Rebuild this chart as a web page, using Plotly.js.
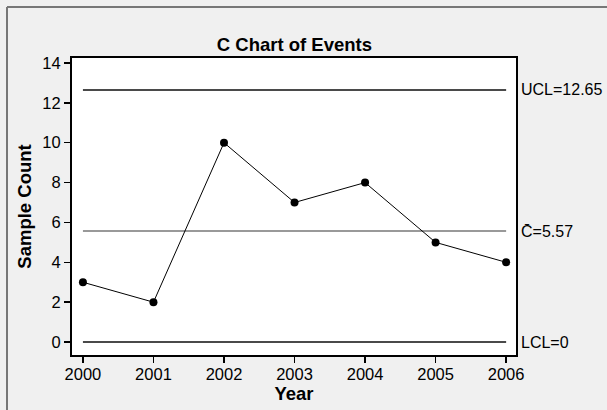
<!DOCTYPE html>
<html>
<head>
<meta charset="utf-8">
<script src="https://cdn.plot.ly/plotly-3.0.1.min.js"></script>
<style>html,body{margin:0;padding:0;background:#f0f0f0;}#chart{width:607px;height:410px;}</style>
</head>
<body>
<div id="chart"></div>
<script>
const years = [2000, 2001, 2002, 2003, 2004, 2005, 2006];
const counts = [3, 2, 10, 7, 8, 5, 4];
const ucl = 12.65;
const centerLine = 5.57;
const lcl = 0;
const limitLabels = ['UCL=12.65', 'C\u0304=5.57', 'LCL=0'];
const limitValues = [ucl, centerLine, lcl];
const yTicks = [0, 2, 4, 6, 8, 10, 12, 14];

const FONT = 'Liberation Sans, Arial, Helvetica, sans-serif';
const xEnds = [years[0], years[years.length - 1]];

const traces = [
  {x: xEnds, y: [ucl, ucl], mode: 'lines', line: {color: '#4a4a4a', width: 2}, hoverinfo: 'skip', showlegend: false},
  {x: xEnds, y: [centerLine, centerLine], mode: 'lines', line: {color: '#999999', width: 2}, hoverinfo: 'skip', showlegend: false},
  {x: xEnds, y: [lcl, lcl], mode: 'lines', line: {color: '#4a4a4a', width: 2}, hoverinfo: 'skip', showlegend: false},
  {x: years, y: counts, mode: 'lines+markers', line: {color: '#000', width: 1}, marker: {color: '#000', size: 8}, showlegend: false}
];

const annotations = limitLabels.map((t, i) => ({
  xref: 'paper', yref: 'y', x: 1, y: limitValues[i], text: t, showarrow: false,
  xanchor: 'left', yanchor: 'middle', xshift: 3,
  font: {family: FONT, size: 16, color: '#000'}
}));

const layout = {
  width: 607, height: 410,
  margin: {l: 72, r: 91, t: 58, b: 55},
  paper_bgcolor: '#f0f0f0',
  plot_bgcolor: '#ffffff',
  font: {family: FONT, color: '#000'},
  title: {text: '<b>C Chart of Events</b>', font: {family: FONT, size: 18.5, color: '#000'}, x: 0.485, xanchor: 'center', y: 0.875, yanchor: 'bottom', yref: 'container'},
  xaxis: {
    range: [1999.845, 2006.14], tickvals: years, ticktext: years.map(String),
    showgrid: false, zeroline: false, showline: true, mirror: true, linecolor: '#000', linewidth: 2,
    ticks: 'outside', ticklen: 6, tickwidth: 1.5, tickcolor: '#000', ticklabelstandoff: -3,
    tickfont: {family: FONT, size: 16.5, color: '#000'},
    title: {text: '<b>Year</b>', font: {family: FONT, size: 18.5, color: '#000'}, standoff: 0}
  },
  yaxis: {
    range: [-0.65, 14.25], tickvals: yTicks,
    showgrid: false, zeroline: false, showline: true, mirror: true, linecolor: '#000', linewidth: 2,
    ticks: 'outside', ticklen: 6, tickwidth: 1.5, tickcolor: '#000',
    tickfont: {family: FONT, size: 16.5, color: '#000'},
    title: {text: '<b>Sample Count</b>', font: {family: FONT, size: 18.5, color: '#000'}, standoff: 6}
  },
  annotations: annotations,
  shapes: [
    {type: 'line', xref: 'paper', yref: 'paper', x0: -65/444, x1: 2, y0: 1 + 51/297, y1: 1 + 51/297, line: {color: '#777', width: 2}},
    {type: 'line', xref: 'paper', yref: 'paper', x0: -65/444, x1: -65/444, y0: 1 + 51/297, y1: -2, line: {color: '#777', width: 2}}
  ]
};

Plotly.newPlot('chart', traces, layout, {staticPlot: true, displayModeBar: false});
</script>
</body>
</html>
